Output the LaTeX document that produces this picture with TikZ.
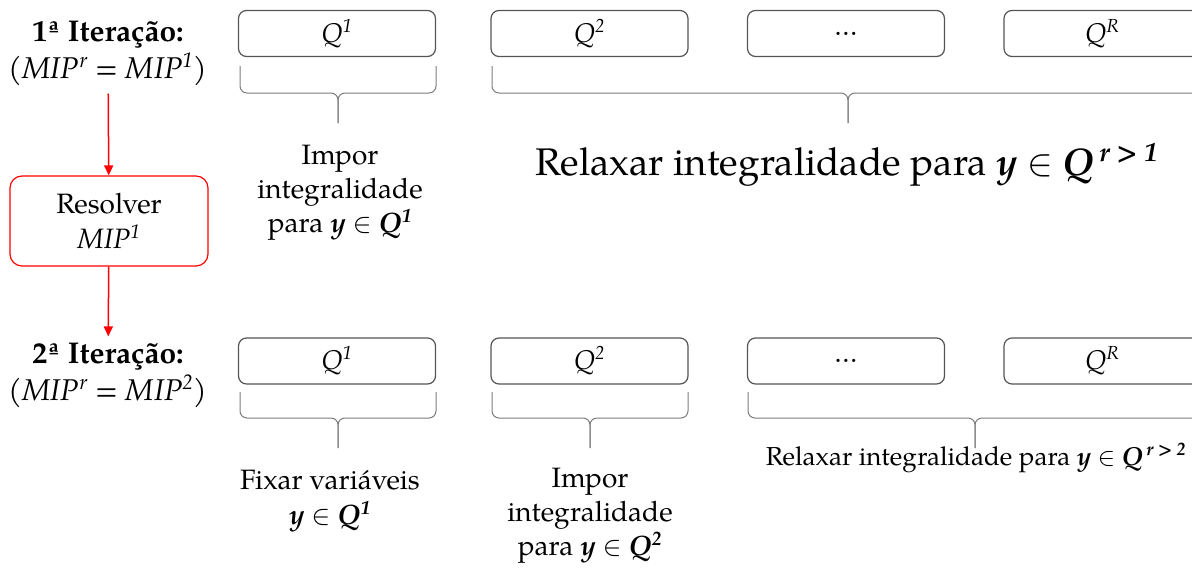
\RequirePackage{fix-cm}
\documentclass[tikz,border=0pt]{standalone}
\usepackage{fontspec}
\setmainfont{texgyrepagella}[Extension=.otf, UprightFont=*-regular, BoldFont=*-bold, ItalicFont=*-italic, BoldItalicFont=*-bolditalic]
\usetikzlibrary{arrows.meta}
\definecolor{borda}{RGB}{85,85,85}
\definecolor{chavecor}{RGB}{125,125,125}
\tikzset{
    caixa/.style={draw=borda, line width=1.2pt, rounded corners=8pt, minimum width=197pt, minimum height=46pt, inner sep=0pt, font=\fontsize{27}{32}\selectfont\itshape},
    chave/.style={draw=chavecor, line width=1pt, rounded corners=7pt},
    seta/.style={draw=red, line width=1.5pt, -{Triangle[length=10pt,width=9pt]}},
    texto/.style={align=center, inner sep=0pt, font=\fontsize{28}{33}\selectfont},
}
\newcommand{\chave}[4]{%
    \draw [chave] (#1,#3) -- (#1,#4) -- ({(#1+#2)/2},#4) -- ({(#1+#2)/2},#4+30);
    \draw [chave] (#2,#3) -- (#2,#4) -- ({(#1+#2)/2},#4) -- ({(#1+#2)/2},#4+30);}
\newcommand{\yQ}[1]{\textbf{\textit{y}} $\in$ \textbf{\textit{Q\textsuperscript{#1}}}}
\begin{document}
\begin{tikzpicture}[x=1pt, y=-1pt]
    \useasboundingbox (0,0) rectangle (1192,570);
    \node [texto, font=\fontsize{30}{37}\selectfont] (it1) at (108,53) {\textbf{1ª Iteração:}\\\textit{(MIP\textsuperscript{r} = MIP\textsuperscript{1})}};
    \node [texto, draw=red, line width=1.2pt, rounded corners=12pt, minimum width=198pt, minimum height=90pt, font=\fontsize{28}{35}\selectfont] (resolver) at (109,221) {Resolver\\\textit{MIP\textsuperscript{1}}};
    \node [texto, font=\fontsize{30}{37}\selectfont] (it2) at (108,375) {\textbf{2ª Iteração:}\\\textit{(MIP\textsuperscript{r} = MIP\textsuperscript{2})}};
    \draw [seta, shorten <=8pt] (it1) -- (resolver);
    \draw [seta, shorten >=6pt] (resolver) -- (it2);
    \node [caixa] (q11) at (337,33.5) {Q\textsuperscript{1}};
    \node [caixa] (q12) at (589.5,33.5) {Q\textsuperscript{2}};
    \node [caixa] (q13) at (846,33.5) {\upshape\ldots};
    \node [caixa] (q14) at (1102.5,33.5) {Q\textsuperscript{R}};
    \node [caixa] (q21) at (337,361) {Q\textsuperscript{1}};
    \node [caixa] (q22) at (589.5,361) {Q\textsuperscript{2}};
    \node [caixa] (q23) at (846,361) {\upshape\ldots};
    \node [caixa] (q24) at (1102.5,361) {Q\textsuperscript{R}};
    \chave{240}{436}{66}{93}
    \chave{492}{1204}{66}{93}
    \chave{240}{436}{392}{418}
    \chave{492}{688}{392}{418}
    \chave{748}{1202}{392}{418}
    \node [texto, font=\fontsize{28}{34}\selectfont] (impor1) at (340,193) {Impor\\integralidade\\para \yQ{1}};
    \node [texto, font=\fontsize{38.5}{44}\selectfont] (relax1) at (847,165) {Relaxar integralidade para \yQ{\,r > 1}};
    \node [texto, font=\fontsize{28}{35}\selectfont] (fixar) at (330,501) {Fixar variáveis\\\yQ{1}};
    \node [texto, font=\fontsize{28}{34}\selectfont] (impor2) at (590,516) {Impor\\integralidade\\para \yQ{2}};
    \node [texto, font=\fontsize{26}{30}\selectfont] (relax2) at (976,458) {Relaxar integralidade para \yQ{\,r > 2}};
\end{tikzpicture}
\end{document}
